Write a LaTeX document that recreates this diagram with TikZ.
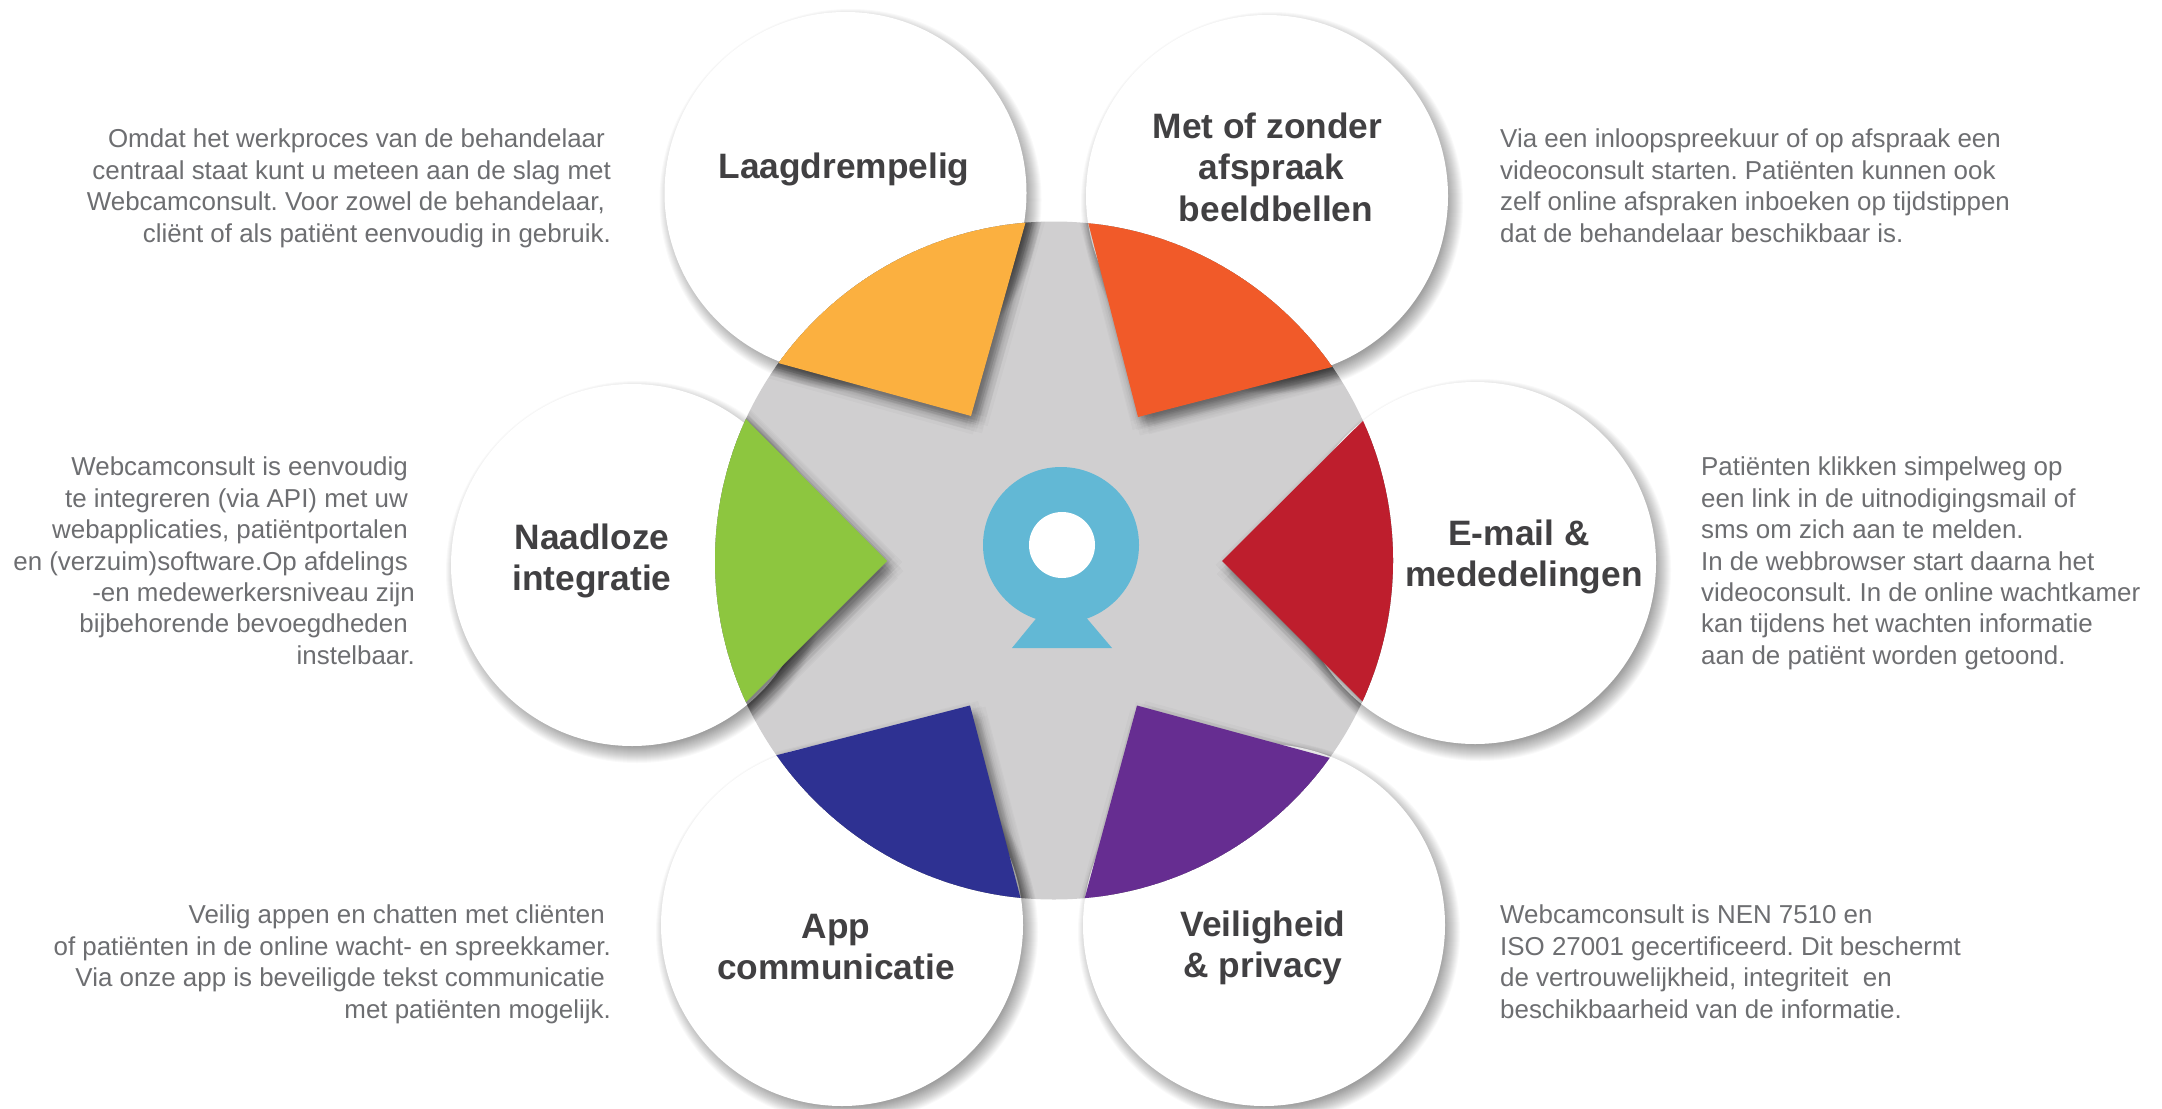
\documentclass[tikz,border=0pt]{standalone}
\usepackage{fontspec}
\setmainfont{Liberation Sans}
\definecolor{bodyc}{HTML}{6D6E71}
\definecolor{titlec}{HTML}{414042}
\definecolor{discc}{HTML}{D0CFD0}
\definecolor{camc}{HTML}{62B8D5}
\definecolor{wyellow}{HTML}{FBB040}
\definecolor{worange}{HTML}{F15A29}
\definecolor{wred}{HTML}{BE1E2D}
\definecolor{wpurple}{HTML}{662D91}
\definecolor{wnavy}{HTML}{2E3192}
\definecolor{wgreen}{HTML}{8DC63F}
\tikzset{
  x=1pt,y=-1pt,
  bubble/.style={circle,fill=white,minimum size=362pt,inner sep=0pt},
  softlayer/.style={black,opacity=.022},
  wedgelayer/.style={black,opacity=.018},
  title/.style={font=\fontsize{35.3}{41.5}\selectfont\bfseries,text=titlec,align=center,inner sep=0pt},
  bodyl/.style={font=\fontsize{25.9}{31.4}\selectfont,text=bodyc,align=left,inner sep=0pt,anchor=north west},
  bodyr/.style={font=\fontsize{25.9}{31.4}\selectfont,text=bodyc,align=right,inner sep=0pt,anchor=north east},
}
\newcommand{\softbubble}[3]{%
  \foreach \rr in {168,169,...,191} {\fill[softlayer] (#2+5,#3+7) circle[radius=\rr];}
  \node[bubble] (#1) at (#2,#3) {};
}
\newcommand{\colorwedge}[2]{%
  \fill[wedgelayer,shift={(5,7)}] #2;
  \foreach \rr in {3,6,9,12} {\foreach \aa in {0,45,...,315} {%
    \fill[wedgelayer,shift={({5+\rr*cos(\aa+\rr*5)},{7+\rr*sin(\aa+\rr*5)})}] #2;}}
  \fill[#1] #2;
}
\newcommand{\tail}[1]{\rule{#1pt}{0pt}}
\begin{document}
\begin{tikzpicture}
\useasboundingbox (0,0) rectangle (2162,1108);
\fill[white] (0,0) rectangle (2162,1108);
% central disc
\node[circle,fill=discc,minimum size=678pt,inner sep=0pt] (disc) at (1054,560.5) {};
% bubbles
\softbubble{b1}{845.5}{193}
\softbubble{b2}{1267}{196}
\softbubble{b3}{1475}{563}
\softbubble{b4}{1264}{925}
\softbubble{b5}{842}{925}
\softbubble{b6}{632}{565}
% wedges, cut off by the disc
\begin{scope}
\clip (1054,560.5) circle[radius=339];
\colorwedge{wyellow}{(971,416) -- (720,347) -- (720,164) -- (1042,164) -- cycle}
\colorwedge{worange}{(1138,417) -- (1073,163.5) -- (1390,163.5) -- (1390,352) -- cycle}
\colorwedge{wred}{(1222,561) -- (1405,379) -- (1404,743) -- cycle}
\colorwedge{wpurple}{(1137,705.5) -- (1389,774) -- (1389,956) -- (1069,956) -- cycle}
\colorwedge{wnavy}{(970,705.5) -- (719,770) -- (719,957) -- (1036,957) -- cycle}
\colorwedge{wgreen}{(887,561) -- (702,375) -- (704,744) -- cycle}
\end{scope}
% webcam icon
\fill[camc] (1039,615) -- (1084,615) -- (1112,648) -- (1012,648) -- cycle;
\node[circle,fill=camc,minimum size=156pt,inner sep=0pt] (cam) at (1061,545) {};
\node[circle,fill=white,minimum size=66pt,inner sep=0pt] (lens) at (1062,545) {};
% titles
\node[title] (t1) at (844,169) {Laagdrempelig};
\node[title] (t2) at (1276,167) {Met of zonder\tail{17}\\afspraak\tail{9}\\beeldbellen};
\node[title] (t3) at (1524,557) {E-mail \&\tail{10}\\mededelingen};
\node[title] (t4) at (1263,948) {Veiligheid\\\& privacy};
\node[title] (t5) at (836,947) {App\\communicatie};
\node[title] (t6) at (592,561) {Naadloze\\integratie};
% body texts
\frenchspacing
\node[bodyr] (d1) at (611,129) {Omdat het werkproces van de behandelaar\tail{6}\\centraal staat kunt u meteen aan de slag met\\Webcamconsult. Voor zowel de behandelaar,\tail{6}\\cliënt of als patiënt eenvoudig in gebruik.};
\node[bodyl] (d2) at (1500,129) {Via een inloopspreekuur of op afspraak een\\videoconsult starten. Patiënten kunnen ook\\zelf online afspraken inboeken op tijdstippen\\dat de behandelaar beschikbaar is.};
\node[bodyl] (d3) at (1701,457) {Patiënten klikken simpelweg op\\een link in de uitnodigingsmail of\\sms om zich aan te melden.\\In de webbrowser start daarna het\\videoconsult. In de online wachtkamer\\kan tijdens het wachten informatie\\aan de patiënt worden getoond.};
\node[bodyl] (d4) at (1500,905) {Webcamconsult is NEN 7510 en\\ISO 27001 gecertificeerd. Dit beschermt\\de vertrouwelijkheid, integriteit\ \ en\\beschikbaarheid van de informatie.};
\node[bodyr] (d5) at (611,905) {Veilig appen en chatten met cliënten\tail{6}\\of patiënten in de online wacht- en spreekkamer.\\Via onze app is beveiligde tekst communicatie\tail{6}\\met patiënten mogelijk.};
\node[bodyr] (d6) at (415,457) {Webcamconsult is eenvoudig\tail{7}\\te integreren (via API) met uw\tail{7}\\webapplicaties, patiëntportalen\tail{7}\\en (verzuim)software.Op afdelings\tail{7}\\-en medewerkersniveau zijn\\bijbehorende bevoegdheden\tail{7}\\instelbaar.};
\end{tikzpicture}
\end{document}
